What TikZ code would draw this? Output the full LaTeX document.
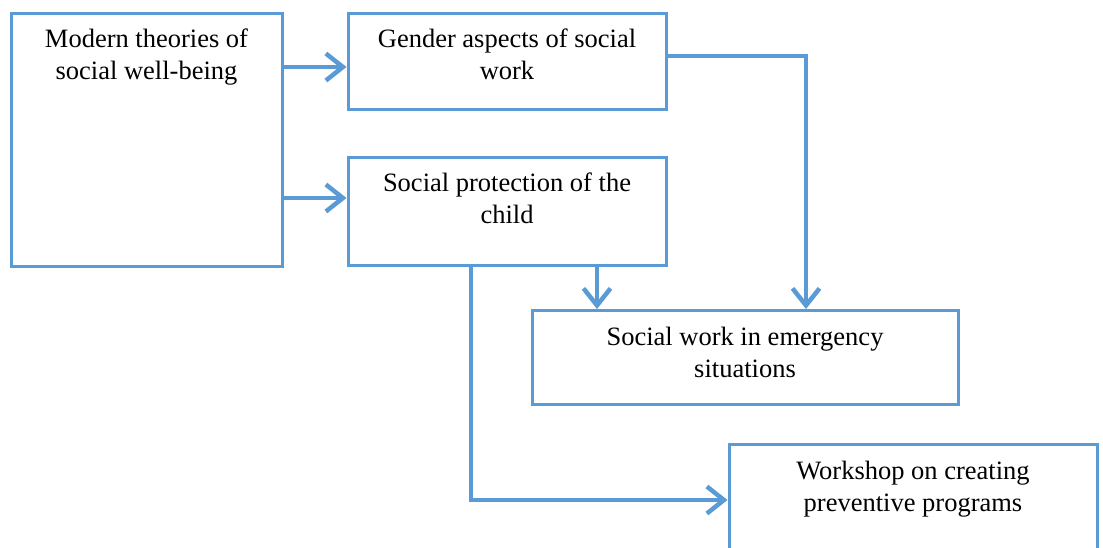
\documentclass[tikz,border=0pt]{standalone}
\usepackage{fontspec}
\setmainfont{Liberation Serif}
\usetikzlibrary{arrows.meta,calc}
\definecolor{bl}{HTML}{5B9BD5}
\tikzset{
  box/.style={draw=bl,line width=3pt,rectangle,anchor=north,inner sep=0pt},
  lbl/.style={anchor=base,align=center,inner sep=0pt,font=\fontsize{26.5}{32}\selectfont},
  arr/.style={draw=bl,line width=4.5pt,-{Straight Barb[length=17pt,width=27pt]}}
}
\begin{document}
\begin{tikzpicture}[x=1pt,y=-1pt]
\clip (0,0) rectangle (1103,547);
\fill[white] (0,0) rectangle (1103,547);
\node[box,minimum width=271pt,minimum height=253pt] (A) at (146.5,12) {};
\node[box,minimum width=318pt,minimum height=96pt] (B) at (507,12) {};
\node[box,minimum width=318pt,minimum height=108pt] (C) at (507,156) {};
\node[box,minimum width=426pt,minimum height=94pt] (D) at (745,309) {};
\node[box,minimum width=368pt,minimum height=150pt] (E) at (913,443) {};
\node[lbl] (At) at (146.5,79) {Modern theories of\\social well-being};
\node[lbl] (Bt) at (507,79) {Gender aspects of social\\work};
\node[lbl] (Ct) at (507,223) {Social protection of the\\child};
\node[lbl] (Dt) at (745,377) {Social work in emergency\\situations};
\node[lbl] (Et) at (913,511) {Workshop on creating\\preventive programs};
\draw[arr] (A.east |- 0,67) -- (B.west |- 0,67);
\draw[arr] (A.east |- 0,198) -- (C.west |- 0,198);
\draw[arr] (B.east |- 0,56) -| (D.north -| 806,0);
\draw[arr] (C.south -| 597,0) -- (D.north -| 597,0);
\draw[arr] (C.south -| 471,0) |- (E.west |- 0,500);
\end{tikzpicture}
\end{document}
